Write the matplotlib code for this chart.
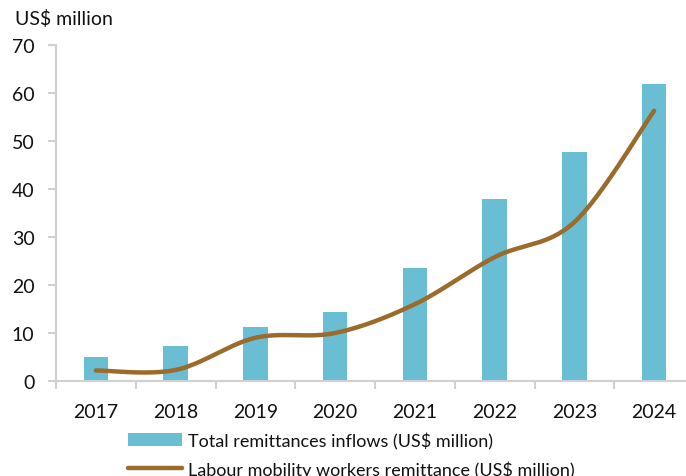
import numpy as np
from matplotlib import pyplot as plt
from matplotlib.lines import Line2D
from matplotlib.patches import Patch

plt.rcParams['font.family'] = ['Lato', 'DejaVu Sans']

YEARS = ['2017', '2018', '2019', '2020', '2021', '2022', '2023', '2024']
TOTAL_INFLOWS = [5.0, 7.2, 11.2, 14.4, 23.5, 38.0, 47.8, 61.9]
LABOUR_MOBILITY = [2.2, 2.3, 9.0, 10.0, 16.0, 25.8, 33.1, 56.3]

BAR_COLOR = '#6ABED4'
LINE_COLOR = '#9A6B2B'
AXIS_COLOR = '#D0D0D0'
TEXT_COLOR = '#111111'


def smooth_curve(x, y, steps=40):
    # Bezier segments with Catmull-Rom style control points, like a spreadsheet "smoothed line"
    x = np.asarray(x, dtype=float)
    y = np.asarray(y, dtype=float)
    pts = np.column_stack([x, y])
    padded = np.vstack([pts[0], pts, pts[-1]])
    out = []
    t = np.linspace(0, 1, steps)[:, None]
    for i in range(len(pts) - 1):
        p0, p1, p2, p3 = padded[i], padded[i + 1], padded[i + 2], padded[i + 3]
        c1 = p1 + (p2 - p0) / 6
        c2 = p2 - (p3 - p1) / 6
        seg = ((1 - t) ** 3) * p1 + 3 * ((1 - t) ** 2) * t * c1 + 3 * (1 - t) * t ** 2 * c2 + t ** 3 * p2
        out.append(seg if i == 0 else seg[1:])
    curve = np.vstack(out)
    return curve[:, 0], curve[:, 1]


fig = plt.figure(figsize=(6.86, 4.77), dpi=100)
ax = fig.add_axes([56 / 686, 1 - 382 / 477, 638 / 686, 336 / 477])

positions = np.arange(len(YEARS))
ax.bar(positions, TOTAL_INFLOWS, width=0.31, color=BAR_COLOR, zorder=2)
sx, sy = smooth_curve(positions, LABOUR_MOBILITY)
ax.plot(sx, sy, color=LINE_COLOR, linewidth=3.2, solid_capstyle='round', zorder=3)

ax.set_xlim(-0.5, len(YEARS) - 0.5)
ax.set_ylim(0, 70)
ax.set_yticks(range(0, 71, 10))

# category boundaries carry the tick marks, labels sit at the centres
ax.set_xticks(np.arange(-0.5, len(YEARS)), labels=[])
ax.set_xticks(positions, labels=YEARS, minor=True)
ax.tick_params(axis='x', which='major', length=6, width=1.5, color=AXIS_COLOR)
ax.tick_params(axis='x', which='minor', length=0, pad=16, labelsize=14, labelcolor=TEXT_COLOR)
ax.tick_params(axis='y', length=6, width=1.5, color=AXIS_COLOR, pad=9.5, labelsize=14, labelcolor=TEXT_COLOR)

for side in ('top', 'right'):
    ax.spines[side].set_visible(False)
for side in ('left', 'bottom'):
    ax.spines[side].set_color(AXIS_COLOR)
    ax.spines[side].set_linewidth(1.5)

fig.text(15 / 686, 1 - 19 / 477, 'US$ million', fontsize=14, color=TEXT_COLOR, va='center', ha='left')

handles = [
    Patch(facecolor=BAR_COLOR, edgecolor='none'),
    Line2D([], [], color=LINE_COLOR, linewidth=3.2, solid_capstyle='round'),
]
labels = ['Total remittances inflows (US$ million)', 'Labour mobility workers remittance (US$ million)']
fig.legend(handles, labels, loc='upper left', bbox_to_anchor=(128 / 686, 1 - 433 / 477),
           frameon=False, fontsize=13, handlelength=3.0, handletextpad=0.3,
           labelspacing=0.62, borderpad=0, borderaxespad=0, labelcolor=TEXT_COLOR)

fig.savefig('out.png', dpi=100)
